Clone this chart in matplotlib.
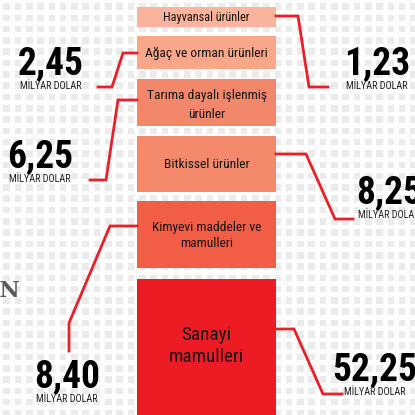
import numpy as np
import matplotlib.pyplot as plt
from matplotlib.patches import Rectangle

# data
categories = ["Hayvansal ürünler", "Ağaç ve orman ürünleri",
              "Tarıma dayalı işlenmiş\nürünler", "Bitkissel ürünler",
              "Kimyevi maddeler ve\nmamulleri", "Sanayi\nmamulleri"]
values = ["1,23", "2,45", "6,25", "8,25", "8,40", "52,25"]
unit = "MİLYAR DOLAR"

# layout (pixels)
box_top = [7, 36, 79, 136, 201, 279]
box_bot = [27, 69, 126, 192, 268, 430]
box_colors = ["#f9b49b", "#f8a78b", "#f3876b", "#f48a6b", "#f15d45", "#ed1c24"]
text_y = [17, 53, 105, 164, 235, 346]
text_size = [8.8, 9.7, 9.7, 9.7, 9.7, 13.8]
text_ls = [1.2, 1.2, 1.6, 1.2, 1.3, 1.3]
# leader lines: list of points, and label position (x center, number baseline y)
leaders = [
    [(276, 16), (298, 16), (309, 87), (328, 87)],
    [(137, 53), (123, 53), (112, 87), (98, 87)],
    [(137, 100), (118, 100), (106, 180), (90, 180)],
    [(276, 154), (306, 154), (335, 219), (353, 219)],
    [(137, 226), (110, 226), (69, 323), (69, 351)],
    [(276, 329), (294, 329), (323, 394), (342, 394)],
]
label_pos = [(377, 74), (51, 74), (40, 167), (389, 203), (67, 387), (375, 380)]

FONT = ["Roboto Condensed", "DejaVu Sans"]
W = H = 415
fig = plt.figure(figsize=(4.15, 4.15), dpi=100)
ax = fig.add_axes([0, 0, 1, 1])
ax.set_xlim(0, W)
ax.set_ylim(H, 0)
ax.axis("off")

# dotted background
pitch = 11.3
for gx in np.arange(3.3, W, pitch):
    for gy in np.arange(3.3, H, pitch):
        ax.add_patch(Rectangle((gx, gy), 6.6, 6.6, color="#ebebeb", lw=0, zorder=0))

ax.text(20, 291, "AN", fontsize=16, fontweight="bold", family="DejaVu Serif",
        color="#5a5a5a", va="center", ha="right", zorder=1)

x0, x1 = 137, 276
heights = [b - t for t, b in zip(box_top, box_bot)]
ax.bar((x0 + x1) / 2, heights, width=x1 - x0, bottom=box_top, color=box_colors,
       linewidth=0, zorder=2)

for i, cat in enumerate(categories):
    ax.text((x0 + x1) / 2, text_y[i], cat, ha="center", va="center", fontsize=text_size[i],
            family=FONT, color="#141414", linespacing=text_ls[i], zorder=3)

for pts, (lx, ly), v in zip(leaders, label_pos, values):
    xs, ys = zip(*pts)
    ax.plot(xs, ys, color="#e8202a", lw=2, solid_joinstyle="miter", zorder=3)
    ax.text(lx, ly, v, ha="center", va="baseline", fontsize=27, fontweight="bold",
            family=FONT, color="#000000", zorder=4)
    ax.text(lx, ly + 15, unit, ha="center", va="baseline", fontsize=7.3,
            family=FONT, color="#222222", zorder=4)

fig.savefig("out.png", dpi=100)
